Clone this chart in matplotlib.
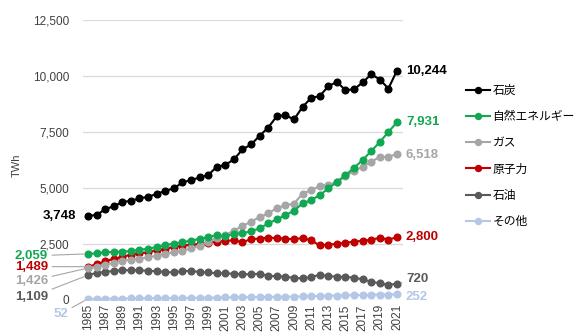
import numpy as np
import matplotlib.pyplot as plt

plt.rcParams['font.family'] = ['Liberation Sans', 'Noto Sans CJK JP', 'DejaVu Sans']

years = list(range(1985, 2022))

coal = [3748, 3800, 4045, 4190, 4370, 4430, 4535, 4610, 4730, 4875,
        4980, 5250, 5350, 5470, 5575, 5945, 6030, 6275, 6720, 6944,
        7330, 7700, 8206, 8250, 8060, 8620, 9023, 9100, 9544, 9736,
        9366, 9410, 9710, 10080, 9843, 9440, 10244]
renew = [2059, 2080, 2130, 2150, 2165, 2180, 2250, 2280, 2370, 2450,
         2520, 2580, 2650, 2730, 2810, 2900, 2850, 2950, 2974, 3077,
         3197, 3420, 3598, 3790, 3983, 4312, 4460, 4683, 4980, 5276,
         5575, 5900, 6250, 6650, 7050, 7506, 7931]
gas = [1426, 1480, 1580, 1650, 1760, 1800, 1850, 1900, 1980, 2060,
       2130, 2200, 2300, 2430, 2600, 2760, 2900, 3100, 3300, 3500,
       3700, 3870, 4100, 4230, 4300, 4750, 4906, 5084, 5150, 5250,
       5530, 5767, 5945, 6168, 6391, 6390, 6518]
nuclear = [1489, 1590, 1730, 1840, 1920, 2030, 2080, 2130, 2220, 2280,
           2370, 2430, 2470, 2500, 2550, 2600, 2650, 2660, 2580, 2720,
           2740, 2790, 2760, 2740, 2710, 2770, 2660, 2440, 2470, 2510,
           2550, 2610, 2640, 2690, 2780, 2700, 2800]
oil = [1109, 1210, 1250, 1300, 1330, 1330, 1330, 1300, 1290, 1250,
       1230, 1290, 1300, 1250, 1230, 1190, 1190, 1170, 1160, 1140,
       1180, 1080, 1060, 1040, 990, 960, 1030, 1120, 1070, 1040,
       1030, 1000, 920, 820, 740, 680, 720]
other = [52, 55, 58, 62, 66, 70, 73, 76, 80, 85,
         88, 92, 96, 100, 105, 110, 115, 120, 125, 130,
         135, 140, 145, 150, 155, 160, 170, 180, 190, 200,
         210, 215, 225, 235, 245, 245, 252]

names = ['石炭', '自然エネルギー', 'ガス', '原子力', '石油', 'その他']
series = [coal, renew, gas, nuclear, oil, other]
colors = ['#000000', '#12a853', '#a6a6a6', '#c00000', '#595959', '#b4c7e7']

fig = plt.figure(figsize=(5.79, 3.36), dpi=100)
ax = fig.add_axes([83 / 579, 36 / 336, 320 / 579, 280 / 336])

# draw bottom-up so coal ends on top
for name, vals, c in reversed(list(zip(names, series, colors))):
    ax.plot(years, vals, color=c, lw=1.5, marker='o', ms=4.8, label=name)

ax.set_xlim(1984.42, 2021.7)
ax.set_ylim(0, 12500)
ax.set_yticks(np.arange(0, 12501, 2500))
ax.set_yticklabels([f'{v:,}' for v in range(0, 12501, 2500)])
ax.set_xticks(years[::2])
ax.set_xticklabels([str(y) for y in years[::2]], rotation=90)
ax.tick_params(axis='both', length=0, labelsize=8.5, labelcolor='#404040')
ax.tick_params(axis='y', pad=10)
ax.tick_params(axis='x', pad=3)
ax.grid(axis='y', color='#d9d9d9', lw=0.9)
ax.set_axisbelow(True)
for s in ax.spines.values():
    s.set_visible(False)
ax.set_ylabel('TWh', fontsize=8, color='#404040')
ax.yaxis.set_label_coords(-0.19, 0.48)

lead = dict(arrowstyle='-', color='#a6a6a6', lw=0.8, shrinkA=1, shrinkB=3)

# start-year labels (1985)
start_offsets = [(-12, 0), (-40, -2), (-40, -13), (-40, 0), (-40, -22), (-20, -15)]
for vals, c, off, i in zip(series, colors, start_offsets, range(6)):
    ap = None if i == 0 else lead
    ax.annotate(f'{vals[0]:,}', xy=(years[0], vals[0]), xytext=off,
                textcoords='offset pixels', ha='right', va='center',
                fontsize=9.5, color=c, fontweight='bold',
                arrowprops=ap, annotation_clip=False)

# end-year labels (2021)
end_offsets = [(9, 0), (9, 0), (9, -1), (9, 0), (9, 5), (9, -3)]
for vals, c, off, i in zip(series, colors, end_offsets, range(6)):
    ap = lead if i == 4 else None
    ax.annotate(f'{vals[-1]:,}', xy=(years[-1], vals[-1]), xytext=off,
                textcoords='offset pixels', ha='left', va='center',
                fontsize=9.5, color=c, fontweight='bold',
                arrowprops=ap, annotation_clip=False)

handles, labels = ax.get_legend_handles_labels()
ax.legend(handles[::-1], labels[::-1], loc='upper left',
          bbox_to_anchor=(466 / 579, 1 - 85 / 336), bbox_transform=fig.transFigure,
          frameon=False, fontsize=8.5, handlelength=2.0, handletextpad=0.25,
          labelspacing=1.2, markerscale=0.9, borderpad=0, borderaxespad=0)

fig.savefig('out.png', dpi=100)
